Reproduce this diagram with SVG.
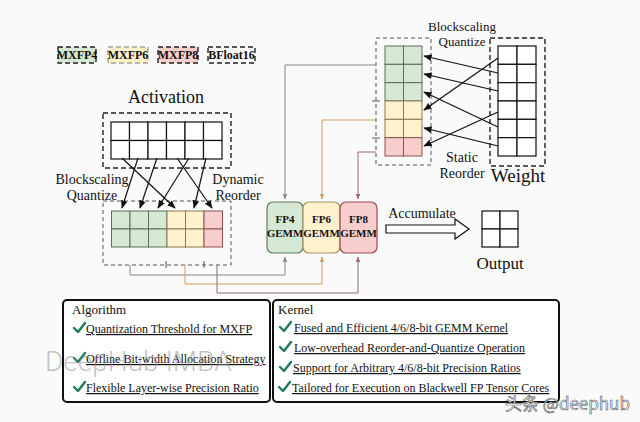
<svg xmlns="http://www.w3.org/2000/svg" width="640" height="422" viewBox="0 0 640 422">
<style>
.serif{font-family:"Liberation Serif","Times New Roman",serif;fill:#111}
.leg{font-size:12px;font-weight:bold;text-anchor:middle}
.lbl{font-size:14px;text-anchor:middle}
.dash{fill:none;stroke:#222;stroke-width:1.4;stroke-dasharray:5,3}
.dashg{fill:none;stroke:#555;stroke-width:1;stroke-dasharray:4,3}
.cellk{fill:#fff;stroke:#111;stroke-width:1.2}
.g{fill:#d5e8d4;stroke:#5a6e58;stroke-width:1}
.y{fill:#fff2cc;stroke:#8a7a50;stroke-width:1}
.r{fill:#f8cecc;stroke:#8a5050;stroke-width:1}
.arr{stroke:#111;stroke-width:1.2;fill:none;marker-end:url(#ah)}
.gem{font-size:11px;font-weight:bold;text-anchor:middle}
.item{font-size:12px;text-decoration:underline}
.chk{fill:none;stroke:#1f7a5c;stroke-width:2.4;stroke-linecap:round;stroke-linejoin:round}
.panel{fill:#fff;stroke:#111;stroke-width:2}
</style>
<defs>
<marker id="ah" viewBox="0 0 10 10" refX="9" refY="5" markerWidth="7" markerHeight="7" orient="auto"><path d="M0,1 L10,5 L0,9 z" fill="#111"/></marker>
<marker id="ahgray" viewBox="0 0 10 10" refX="9" refY="5" markerWidth="6" markerHeight="6" orient="auto"><path d="M0,1 L10,5 L0,9 z" fill="#888"/></marker>
<marker id="ahyel" viewBox="0 0 10 10" refX="9" refY="5" markerWidth="6" markerHeight="6" orient="auto"><path d="M0,1 L10,5 L0,9 z" fill="#c9a15a"/></marker>
<marker id="ahred" viewBox="0 0 10 10" refX="9" refY="5" markerWidth="6" markerHeight="6" orient="auto"><path d="M0,1 L10,5 L0,9 z" fill="#a8607a"/></marker>
</defs>
<rect width="640" height="422" fill="#fafafa"/>

<g id="legend">
<rect x="58" y="47" width="38" height="16" fill="#d5e8d4"/>
<rect x="58" y="47" width="38" height="16" class="dash"/>
<text x="77" y="59" class="serif leg">MXFP4</text>
<rect x="108" y="47" width="40" height="16" fill="#fff2cc"/>
<rect x="108" y="47" width="40" height="16" class="dash" stroke-opacity="0.4"/>
<text x="128" y="59" class="serif leg">MXFP6</text>
<rect x="158" y="47" width="40" height="16" fill="#f8cecc"/>
<rect x="158" y="47" width="40" height="16" class="dash"/>
<text x="178" y="59" class="serif leg">MXFP8</text>
<rect x="208" y="47" width="47" height="16" class="dash"/>
<text x="231.5" y="59" class="serif leg">BFloat16</text>
</g>

<g id="activation">
<text x="166" y="103" class="serif" font-size="18" text-anchor="middle">Activation</text>
<rect x="103" y="113" width="128" height="55" class="dash"/>
<g>
<rect x="111" y="122" width="18.5" height="18.5" class="cellk"/><rect x="129.5" y="122" width="18.5" height="18.5" class="cellk"/><rect x="148" y="122" width="18.5" height="18.5" class="cellk"/><rect x="166.5" y="122" width="18.5" height="18.5" class="cellk"/><rect x="185" y="122" width="18.5" height="18.5" class="cellk"/><rect x="203.5" y="122" width="18.5" height="18.5" class="cellk"/>
<rect x="111" y="140.5" width="18.5" height="18.5" class="cellk"/><rect x="129.5" y="140.5" width="18.5" height="18.5" class="cellk"/><rect x="148" y="140.5" width="18.5" height="18.5" class="cellk"/><rect x="166.5" y="140.5" width="18.5" height="18.5" class="cellk"/><rect x="185" y="140.5" width="18.5" height="18.5" class="cellk"/><rect x="203.5" y="140.5" width="18.5" height="18.5" class="cellk"/>
</g>
</g>

<g id="act-labels">
<text x="92" y="184" class="serif lbl">Blockscaling</text>
<text x="92" y="200" class="serif lbl">Quantize</text>
<text x="238" y="184" class="serif lbl">Dynamic</text>
<text x="238" y="200" class="serif lbl">Reorder</text>
</g>

<g id="act-quant">
<rect x="103" y="201" width="128" height="64" class="dashg"/>
<line x1="166" y1="261" x2="166" y2="268" stroke="#555"/>
<line x1="204" y1="261" x2="204" y2="268" stroke="#555"/>
<rect x="111.5" y="211" width="18.5" height="18" class="g"/><rect x="130" y="211" width="18.5" height="18" class="g"/><rect x="148.5" y="211" width="18.5" height="18" class="g"/>
<rect x="111.5" y="229" width="18.5" height="18" class="g"/><rect x="130" y="229" width="18.5" height="18" class="g"/><rect x="148.5" y="229" width="18.5" height="18" class="g"/>
<rect x="167" y="211" width="18.5" height="18" class="y"/><rect x="185.5" y="211" width="18.5" height="18" class="y"/>
<rect x="167" y="229" width="18.5" height="18" class="y"/><rect x="185.5" y="229" width="18.5" height="18" class="y"/>
<rect x="204" y="211" width="18.5" height="18" class="r"/><rect x="204" y="229" width="18.5" height="18" class="r"/>
</g>

<g id="weight">
<rect x="490" y="38" width="55" height="128" class="dash"/>
<g>
<rect x="498" y="46" width="19" height="18.33" class="cellk"/><rect x="517" y="46" width="19" height="18.33" class="cellk"/>
<rect x="498" y="64.33" width="19" height="18.33" class="cellk"/><rect x="517" y="64.33" width="19" height="18.33" class="cellk"/>
<rect x="498" y="82.67" width="19" height="18.33" class="cellk"/><rect x="517" y="82.67" width="19" height="18.33" class="cellk"/>
<rect x="498" y="101" width="19" height="18.33" class="cellk"/><rect x="517" y="101" width="19" height="18.33" class="cellk"/>
<rect x="498" y="119.33" width="19" height="18.33" class="cellk"/><rect x="517" y="119.33" width="19" height="18.33" class="cellk"/>
<rect x="498" y="137.67" width="19" height="18.33" class="cellk"/><rect x="517" y="137.67" width="19" height="18.33" class="cellk"/>
</g>
<text x="518" y="182" class="serif" font-size="19" text-anchor="middle">Weight</text>
</g>

<g id="weight-quant">
<rect x="376" y="38" width="55" height="127" class="dashg"/>
<line x1="372" y1="101" x2="380" y2="101" stroke="#555"/>
<line x1="372" y1="138" x2="380" y2="138" stroke="#555"/>
<rect x="385" y="46" width="18.5" height="18.33" class="g"/><rect x="403.5" y="46" width="18.5" height="18.33" class="g"/>
<rect x="385" y="64.33" width="18.5" height="18.33" class="g"/><rect x="403.5" y="64.33" width="18.5" height="18.33" class="g"/>
<rect x="385" y="82.67" width="18.5" height="18.33" class="g"/><rect x="403.5" y="82.67" width="18.5" height="18.33" class="g"/>
<rect x="385" y="101" width="18.5" height="18.33" class="y"/><rect x="403.5" y="101" width="18.5" height="18.33" class="y"/>
<rect x="385" y="119.33" width="18.5" height="18.33" class="y"/><rect x="403.5" y="119.33" width="18.5" height="18.33" class="y"/>
<rect x="385" y="137.67" width="18.5" height="18.33" class="r"/><rect x="403.5" y="137.67" width="18.5" height="18.33" class="r"/>
</g>

<g id="weight-labels">
<text x="462" y="31" class="serif" font-size="13" text-anchor="middle">Blockscaling</text>
<text x="462" y="46" class="serif" font-size="13" text-anchor="middle">Quantize</text>
<text x="462" y="162" class="serif" font-size="14" text-anchor="middle">Static</text>
<text x="462" y="178" class="serif" font-size="14" text-anchor="middle">Reorder</text>
</g>

<g id="gemm">
<rect x="267" y="202" width="36" height="51" rx="6" fill="#d5e8d4" stroke="#5f7a5c" stroke-width="1.2"/>
<text x="285" y="223" class="serif gem">FP4</text><text x="285" y="237" class="serif gem">GEMM</text>
<rect x="303" y="202" width="37" height="51" rx="6" fill="#fff2cc" stroke="#a8945a" stroke-width="1.2"/>
<text x="321.5" y="223" class="serif gem">FP6</text><text x="321.5" y="237" class="serif gem">GEMM</text>
<rect x="340" y="202" width="37" height="51" rx="6" fill="#f8cecc" stroke="#9a4a55" stroke-width="1.2"/>
<text x="358.5" y="223" class="serif gem">FP8</text><text x="358.5" y="237" class="serif gem">GEMM</text>
</g>

<g id="accumulate">
<text x="422" y="218" class="serif" font-size="14" text-anchor="middle">Accumulate</text>
<path d="M386,225 L455,225 L455,219 L469,229 L455,239 L455,233 L386,233 Z" fill="#fff" stroke="#111" stroke-width="1.2"/>
</g>

<g id="output">
<rect x="482" y="211" width="18" height="18" class="cellk"/><rect x="500" y="211" width="18" height="18" class="cellk"/>
<rect x="482" y="229" width="18" height="18" class="cellk"/><rect x="500" y="229" width="18" height="18" class="cellk"/>
<text x="500" y="269" class="serif" font-size="17" text-anchor="middle">Output</text>
</g>

<g id="connectors">
<line x1="122" y1="158" x2="175" y2="208" class="arr"/>
<line x1="138" y1="158" x2="122" y2="208" class="arr"/>
<line x1="157" y1="158" x2="140" y2="208" class="arr"/>
<line x1="177" y1="158" x2="212" y2="208" class="arr"/>
<line x1="189" y1="158" x2="158" y2="208" class="arr"/>
<line x1="206" y1="158" x2="194" y2="208" class="arr"/>

<line x1="498" y1="58" x2="424" y2="110" class="arr"/>
<line x1="498" y1="73" x2="424" y2="56" class="arr"/>
<line x1="498" y1="91" x2="424" y2="74" class="arr"/>
<line x1="498" y1="112" x2="424" y2="146" class="arr"/>
<line x1="498" y1="127" x2="424" y2="92" class="arr"/>
<line x1="498" y1="146" x2="424" y2="128" class="arr"/>

<path d="M376,65 H285 V199" fill="none" stroke="#888" stroke-width="1" marker-end="url(#ahgray)"/>
<path d="M376,120 H322 V199" fill="none" stroke="#c9a15a" stroke-width="1" marker-end="url(#ahyel)"/>
<path d="M376,152 H358 V199" fill="none" stroke="#a8607a" stroke-width="1" marker-end="url(#ahred)"/>

<path d="M130,265 V275 H285 V257" fill="none" stroke="#888" stroke-width="1" marker-end="url(#ahgray)"/>
<path d="M185,265 V284 H322 V257" fill="none" stroke="#c9a15a" stroke-width="1" marker-end="url(#ahyel)"/>
<path d="M217,265 V293 H358 V257" fill="none" stroke="#8a6a7a" stroke-width="1" marker-end="url(#ahred)"/>
</g>

<g id="algorithm">
<rect x="63" y="300" width="207" height="102" rx="4" class="panel"/>
<text x="72" y="314" class="serif" font-size="13">Algorithm</text>
<path d="M74,328 L78,332 L85,323" class="chk"/>
<text x="86" y="333" class="serif item">Quantization Threshold for MXFP</text>
<path d="M74,358 L78,362 L85,353" class="chk"/>
<text x="86" y="363" class="serif item">Offline Bit-width Allocation Strategy</text>
<path d="M74,387 L78,391 L85,382" class="chk"/>
<text x="86" y="392" class="serif item">Flexible Layer-wise Precision Ratio</text>
</g>

<g id="kernel">
<rect x="273" y="300" width="286" height="102" rx="4" class="panel"/>
<text x="278" y="314" class="serif" font-size="13">Kernel</text>
<path d="M280,327 L284,331 L291,322" class="chk"/>
<text x="294" y="332" class="serif item">Fused and Efficient 4/6/8-bit GEMM Kernel</text>
<path d="M280,347 L284,351 L291,342" class="chk"/>
<text x="294" y="352" class="serif item">Low-overhead Reorder-and-Quantize Operation</text>
<path d="M280,367 L284,371 L291,362" class="chk"/>
<text x="293" y="372" class="serif item">Support for Arbitrary 4/6/8-bit Precision Ratios</text>
<path d="M279,387 L283,391 L290,382" class="chk"/>
<text x="292" y="392" class="serif item">Tailored for Execution on Blackwell FP Tensor Cores</text>
</g>

<g id="watermarks">
<text x="45" y="371" font-family="Roboto,'Noto Sans',sans-serif" font-size="28" font-weight="300" fill="#888" fill-opacity="0.5">DeepHub IMBA</text>
<text x="505" y="410" font-family="'Noto Sans CJK SC','Noto Sans',sans-serif" font-size="17" fill="#fff" stroke="#555" stroke-width="0.6">头条 @deephub</text>
</g>
</svg>
